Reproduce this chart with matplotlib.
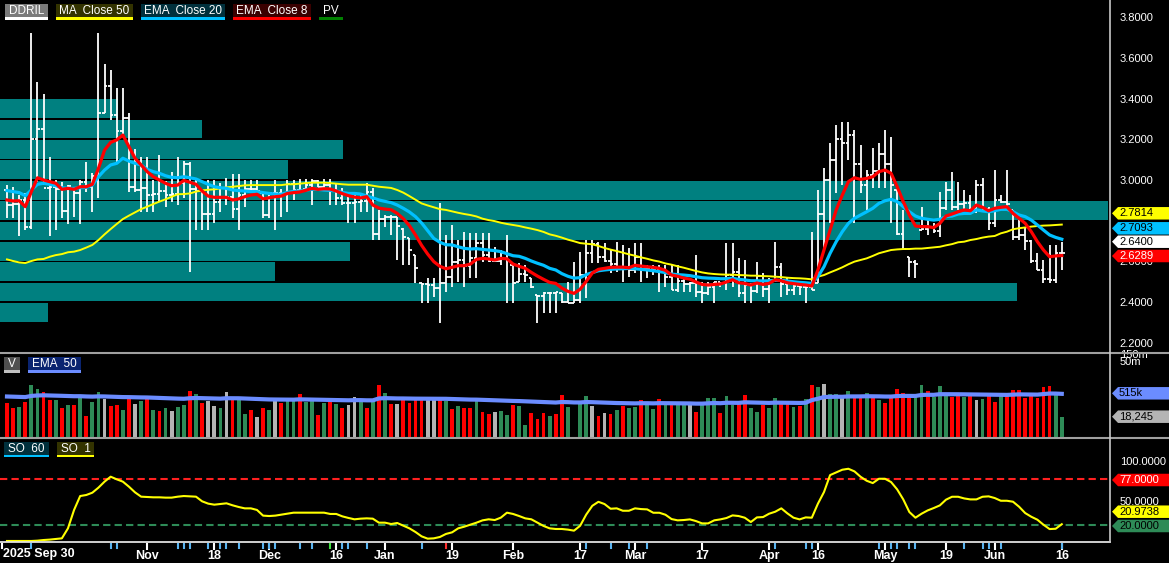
import numpy as np
import pandas as pd
import matplotlib
matplotlib.use("Agg")
import matplotlib.pyplot as plt
from matplotlib.patches import Polygon, Rectangle
from matplotlib.lines import Line2D
from matplotlib.transforms import blended_transform_factory

plt.rcParams['font.family'] = ['Liberation Sans', 'DejaVu Sans']

# ---------------- data ----------------
opens = [2.95, 2.875, 2.88, 2.90, 2.768, 3.202, 3.249, 2.961, 2.964, 2.956,
         2.849, 2.955, 2.937, 2.99, 2.967, 3.021, 3.33, 3.462, 3.318, 3.239,
         3.305, 2.965, 2.95, 2.959, 2.926, 2.929, 2.944, 2.928, 2.93, 2.986,
         3.079, 2.958, 2.944, 2.831, 2.834, 2.894, 2.915, 2.915, 2.857, 2.925,
         2.957, 2.954, 2.935, 2.827, 2.934, 2.936, 2.932, 2.98, 2.952, 2.956,
         2.977, 2.994, 2.967, 2.975, 2.953, 2.911, 2.888, 2.888, 2.892, 2.898,
         2.939, 2.734, 2.81, 2.82, 2.82, 2.76, 2.713, 2.631, 2.492, 2.49,
         2.486, 2.47, 2.496, 2.522, 2.596, 2.607, 2.579, 2.615, 2.691, 2.633,
         2.602, 2.60, 2.643, 2.582, 2.50, 2.538, 2.517, 2.435, 2.43, 2.445,
         2.445, 2.443, 2.40, 2.397, 2.408, 2.533, 2.639, 2.687, 2.624, 2.60,
         2.589, 2.575, 2.572, 2.559, 2.623, 2.563, 2.564, 2.56, 2.549, 2.521,
         2.46, 2.506, 2.487, 2.496, 2.45, 2.445, 2.474, 2.498, 2.496, 2.534,
         2.549, 2.443, 2.482, 2.456, 2.529, 2.463, 2.51, 2.573, 2.488, 2.46,
         2.477, 2.473, 2.474, 2.492, 2.835, 2.999, 3.097, 3.20, 3.182, 3.223,
         3.078, 2.975, 3.026, 3.044, 3.129, 3.077, 2.951, 2.736, 2.623, 2.597,
         2.754, 2.761, 2.771, 2.749, 2.861, 2.949, 2.868, 2.883, 2.885, 2.86,
         2.975, 2.86, 2.79, 2.903, 2.89, 2.853, 2.721, 2.728, 2.70, 2.603,
         2.56, 2.513, 2.508, 2.641]
highs = [2.975, 2.967, 2.926, 2.935, 3.721, 3.480, 3.421, 3.115, 3.000, 2.992,
         2.975, 2.959, 3.000, 3.087, 3.033, 3.721, 3.568, 3.541, 3.450, 3.454,
         3.328, 3.152, 3.115, 3.115, 3.000, 3.123, 2.995, 3.041, 3.115, 3.093,
         3.090, 3.000, 2.946, 3.000, 3.000, 2.984, 3.008, 3.029, 3.029, 3.000,
         3.000, 3.000, 2.939, 2.939, 3.000, 2.954, 3.000, 3.000, 3.003, 3.003,
         3.003, 3.000, 3.003, 3.003, 2.984, 2.959, 2.943, 2.934, 2.934, 2.984,
         2.959, 2.853, 2.828, 2.828, 2.820, 2.762, 2.713, 2.631, 2.492, 2.517,
         2.517, 2.885, 2.730, 2.779, 2.705, 2.746, 2.738, 2.738, 2.741, 2.741,
         2.672, 2.656, 2.730, 2.582, 2.590, 2.582, 2.517, 2.435, 2.451, 2.451,
         2.451, 2.443, 2.500, 2.599, 2.648, 2.705, 2.705, 2.697, 2.689, 2.656,
         2.697, 2.681, 2.664, 2.689, 2.689, 2.582, 2.582, 2.582, 2.582, 2.582,
         2.582, 2.525, 2.500, 2.631, 2.500, 2.500, 2.500, 2.500, 2.689, 2.689,
         2.615, 2.607, 2.492, 2.599, 2.541, 2.517, 2.697, 2.590, 2.517, 2.492,
         2.484, 2.492, 2.746, 2.951, 3.057, 3.180, 3.270, 3.287, 3.287, 3.246,
         3.172, 3.049, 3.156, 3.180, 3.246, 3.213, 2.951, 2.853, 2.623, 2.607,
         2.869, 2.803, 2.787, 2.943, 2.992, 3.041, 2.992, 2.951, 2.926, 3.000,
         3.008, 2.869, 3.049, 2.926, 3.049, 2.853, 2.803, 2.762, 2.705, 2.640,
         2.607, 2.681, 2.681, 2.697]
lows = [2.815, 2.815, 2.726, 2.754, 2.759, 2.992, 2.975, 2.726, 2.754, 2.815,
        2.784, 2.820, 2.784, 2.943, 2.844, 2.910, 3.328, 3.295, 3.090, 3.213,
        2.943, 2.943, 2.844, 2.844, 2.844, 2.894, 2.869, 2.894, 2.877, 2.910,
        2.546, 2.754, 2.754, 2.754, 2.787, 2.844, 2.877, 2.815, 2.754, 2.869,
        2.943, 2.943, 2.815, 2.815, 2.754, 2.820, 2.844, 2.902, 2.934, 2.954,
        2.877, 2.967, 2.954, 2.877, 2.877, 2.877, 2.787, 2.787, 2.844, 2.844,
        2.705, 2.705, 2.771, 2.730, 2.607, 2.582, 2.582, 2.492, 2.394, 2.394,
        2.427, 2.296, 2.451, 2.476, 2.500, 2.476, 2.517, 2.517, 2.599, 2.599,
        2.599, 2.582, 2.394, 2.394, 2.500, 2.500, 2.468, 2.296, 2.345, 2.345,
        2.345, 2.394, 2.394, 2.394, 2.394, 2.418, 2.590, 2.590, 2.599, 2.541,
        2.550, 2.500, 2.525, 2.541, 2.500, 2.517, 2.533, 2.451, 2.476, 2.459,
        2.451, 2.451, 2.451, 2.427, 2.394, 2.435, 2.394, 2.476, 2.459, 2.476,
        2.427, 2.394, 2.394, 2.443, 2.427, 2.394, 2.500, 2.427, 2.435, 2.435,
        2.435, 2.394, 2.459, 2.492, 2.656, 2.787, 2.934, 2.975, 3.098, 2.787,
        2.934, 2.853, 2.959, 2.959, 2.959, 2.787, 2.730, 2.656, 2.525, 2.517,
        2.754, 2.730, 2.738, 2.722, 2.853, 2.853, 2.853, 2.853, 2.853, 2.836,
        2.853, 2.754, 2.771, 2.885, 2.869, 2.705, 2.705, 2.656, 2.590, 2.558,
        2.492, 2.492, 2.492, 2.558]
closes = [2.875, 2.880, 2.900, 2.768, 3.202, 3.249, 2.961, 2.964, 2.956, 2.849,
          2.970, 2.937, 2.990, 2.967, 3.021, 3.330, 3.462, 3.318, 3.239, 3.305,
          2.965, 2.950, 2.959, 2.926, 2.929, 2.944, 2.928, 2.930, 2.986, 3.079,
          2.958, 2.944, 2.831, 2.834, 2.894, 2.915, 2.915, 2.857, 2.925, 2.957,
          2.954, 2.944, 2.827, 2.934, 2.936, 2.932, 2.980, 2.952, 2.952, 2.977,
          2.994, 2.967, 2.975, 2.953, 2.911, 2.888, 2.888, 2.892, 2.898, 2.939,
          2.734, 2.810, 2.820, 2.820, 2.773, 2.719, 2.657, 2.569, 2.490, 2.486,
          2.470, 2.496, 2.522, 2.596, 2.607, 2.579, 2.615, 2.691, 2.633, 2.602,
          2.600, 2.643, 2.606, 2.496, 2.538, 2.531, 2.476, 2.430, 2.445, 2.445,
          2.450, 2.400, 2.397, 2.408, 2.533, 2.639, 2.687, 2.624, 2.600, 2.589,
          2.575, 2.572, 2.559, 2.623, 2.563, 2.564, 2.560, 2.549, 2.521, 2.460,
          2.506, 2.487, 2.496, 2.450, 2.445, 2.474, 2.498, 2.496, 2.534, 2.549,
          2.443, 2.482, 2.456, 2.529, 2.463, 2.510, 2.573, 2.488, 2.460, 2.477,
          2.473, 2.474, 2.462, 2.835, 2.999, 3.097, 3.200, 3.182, 3.223, 3.078,
          2.975, 3.026, 3.044, 3.129, 3.077, 2.977, 2.736, 2.660, 2.597, 2.585,
          2.761, 2.771, 2.749, 2.861, 2.949, 2.868, 2.883, 2.885, 2.860, 2.975,
          2.860, 2.790, 2.903, 2.890, 2.880, 2.721, 2.728, 2.700, 2.603, 2.560,
          2.513, 2.508, 2.641, 2.640]
ema8 = [2.902, 2.897, 2.898, 2.869, 2.943, 3.011, 3.000, 2.992, 2.984, 2.954,
        2.959, 2.954, 2.967, 2.967, 2.979, 3.057, 3.147, 3.185, 3.197, 3.221,
        3.164, 3.107, 3.074, 3.041, 3.016, 3.000, 2.984, 2.972, 2.975, 2.998,
        2.989, 2.979, 2.946, 2.921, 2.915, 2.915, 2.915, 2.902, 2.907, 2.918,
        2.926, 2.930, 2.907, 2.913, 2.918, 2.921, 2.934, 2.938, 2.941, 2.949,
        2.959, 2.954, 2.957, 2.956, 2.946, 2.933, 2.923, 2.916, 2.912, 2.918,
        2.877, 2.862, 2.857, 2.854, 2.836, 2.810, 2.776, 2.730, 2.679, 2.636,
        2.599, 2.576, 2.564, 2.571, 2.579, 2.579, 2.587, 2.610, 2.615, 2.612,
        2.607, 2.615, 2.613, 2.587, 2.576, 2.566, 2.546, 2.528, 2.512, 2.497,
        2.492, 2.469, 2.453, 2.443, 2.463, 2.502, 2.543, 2.561, 2.566, 2.571,
        2.572, 2.572, 2.569, 2.581, 2.577, 2.574, 2.571, 2.566, 2.556, 2.533,
        2.527, 2.518, 2.513, 2.499, 2.487, 2.484, 2.487, 2.489, 2.499, 2.510,
        2.495, 2.492, 2.484, 2.494, 2.487, 2.492, 2.510, 2.505, 2.495, 2.491,
        2.487, 2.484, 2.479, 2.558, 2.656, 2.754, 2.853, 2.926, 2.992, 3.011,
        3.003, 3.008, 3.016, 3.041, 3.049, 3.033, 2.967, 2.894, 2.828, 2.774,
        2.771, 2.771, 2.766, 2.787, 2.823, 2.833, 2.844, 2.853, 2.849, 2.877,
        2.866, 2.849, 2.861, 2.866, 2.869, 2.836, 2.812, 2.787, 2.746, 2.697,
        2.656, 2.623, 2.627, 2.629]
ema20 = [2.948, 2.943, 2.938, 2.923, 2.951, 2.979, 2.984, 2.979, 2.972, 2.962,
         2.959, 2.959, 2.962, 2.964, 2.975, 3.016, 3.049, 3.074, 3.082, 3.107,
         3.093, 3.082, 3.074, 3.052, 3.041, 3.033, 3.021, 3.013, 3.011, 3.016,
         3.011, 3.005, 2.992, 2.979, 2.967, 2.962, 2.959, 2.951, 2.948, 2.946,
         2.943, 2.943, 2.938, 2.934, 2.931, 2.930, 2.939, 2.944, 2.946, 2.951,
         2.954, 2.954, 2.951, 2.949, 2.946, 2.939, 2.934, 2.934, 2.931, 2.921,
         2.912, 2.902, 2.895, 2.889, 2.877, 2.861, 2.843, 2.820, 2.789, 2.751,
         2.713, 2.694, 2.682, 2.681, 2.672, 2.664, 2.661, 2.663, 2.659, 2.656,
         2.653, 2.648, 2.638, 2.628, 2.625, 2.615, 2.602, 2.591, 2.581, 2.566,
         2.558, 2.540, 2.527, 2.518, 2.520, 2.535, 2.545, 2.554, 2.558, 2.561,
         2.563, 2.564, 2.566, 2.564, 2.561, 2.558, 2.554, 2.550, 2.545, 2.538,
         2.535, 2.533, 2.530, 2.525, 2.520, 2.518, 2.517, 2.515, 2.515, 2.517,
         2.512, 2.509, 2.505, 2.505, 2.504, 2.505, 2.507, 2.507, 2.504, 2.500,
         2.497, 2.495, 2.492, 2.525, 2.574, 2.640, 2.697, 2.746, 2.787, 2.812,
         2.828, 2.844, 2.861, 2.885, 2.898, 2.905, 2.894, 2.869, 2.844, 2.823,
         2.812, 2.807, 2.803, 2.807, 2.820, 2.823, 2.833, 2.836, 2.836, 2.853,
         2.848, 2.844, 2.849, 2.856, 2.856, 2.844, 2.828, 2.820, 2.803, 2.779,
         2.754, 2.730, 2.718, 2.709]
ma50 = [2.610, 2.602, 2.595, 2.592, 2.602, 2.610, 2.612, 2.623, 2.631, 2.636,
        2.645, 2.648, 2.656, 2.668, 2.681, 2.705, 2.733, 2.759, 2.784, 2.808,
        2.825, 2.841, 2.857, 2.869, 2.882, 2.894, 2.905, 2.918, 2.930, 2.931,
        2.934, 2.943, 2.949, 2.952, 2.954, 2.959, 2.964, 2.967, 2.970, 2.974,
        2.975, 2.975, 2.975, 2.975, 2.975, 2.975, 2.979, 2.979, 2.982, 2.985,
        2.987, 2.987, 2.987, 2.985, 2.982, 2.979, 2.977, 2.977, 2.977, 2.977,
        2.972, 2.967, 2.964, 2.961, 2.951, 2.938, 2.921, 2.903, 2.885, 2.875,
        2.866, 2.857, 2.853, 2.846, 2.839, 2.833, 2.828, 2.821, 2.810, 2.803,
        2.798, 2.790, 2.784, 2.779, 2.774, 2.767, 2.761, 2.754, 2.745, 2.733,
        2.726, 2.717, 2.707, 2.699, 2.690, 2.687, 2.684, 2.676, 2.666, 2.658,
        2.651, 2.643, 2.635, 2.628, 2.620, 2.613, 2.605, 2.599, 2.590, 2.584,
        2.576, 2.569, 2.561, 2.553, 2.546, 2.541, 2.538, 2.536, 2.535, 2.535,
        2.533, 2.532, 2.530, 2.530, 2.528, 2.527, 2.525, 2.523, 2.520, 2.518,
        2.517, 2.515, 2.512, 2.525, 2.533, 2.546, 2.558, 2.571, 2.586, 2.599,
        2.607, 2.615, 2.627, 2.640, 2.648, 2.656, 2.659, 2.661, 2.661, 2.663,
        2.663, 2.666, 2.669, 2.672, 2.679, 2.685, 2.694, 2.697, 2.705, 2.710,
        2.717, 2.722, 2.725, 2.738, 2.746, 2.758, 2.763, 2.767, 2.771, 2.774,
        2.776, 2.777, 2.779, 2.781]
volume = [136000, 66000, 73000, 149000, 1687000, 953000, 592000, 198000, 198000, 66000,
          97000, 97000, 368000, 20000, 149000, 621000, 229000, 84000, 97000, 48000,
          251000, 112000, 172000, 218000, 48000, 41000, 63000, 41000, 73000, 97000,
          716000, 467000, 129000, 172000, 84000, 63000, 621000, 218000, 229000, 27000,
          48000, 17500, 63000, 48000, 198000, 129000, 172000, 172000, 467000, 149000,
          198000, 23000, 129000, 172000, 112000, 63000, 97000, 304000, 198000, 63000,
          172000, 1687000, 538000, 112000, 112000, 229000, 129000, 198000, 229000, 264000,
          198000, 198000, 172000, 55000, 84000, 63000, 63000, 172000, 36000, 27000,
          36000, 41000, 23000, 97000, 84000, 5600, 31000, 13000, 31000, 20000,
          27000, 405000, 73000, 600, 129000, 351000, 84000, 20000, 31000, 27000,
          48000, 84000, 63000, 73000, 198000, 129000, 55000, 229000, 97000, 97000,
          97000, 97000, 97000, 36000, 112000, 264000, 264000, 31000, 351000, 97000,
          112000, 405000, 63000, 36000, 97000, 63000, 264000, 112000, 112000, 73000,
          84000, 229000, 1687000, 1268000, 1945000, 467000, 467000, 264000, 716000, 351000,
          351000, 538000, 304000, 198000, 129000, 304000, 953000, 538000, 304000, 351000,
          1687000, 716000, 304000, 1462000, 467000, 304000, 467000, 304000, 405000, 198000,
          229000, 405000, 149000, 405000, 351000, 826000, 826000, 264000, 405000, 264000,
          1268000, 1462000, 405000, 18245]
# r = down day, g = up day, w = unchanged
vol_dir = ("rrgrggrrgr" "grgrggwrrg" "rwgrgrgwgg" "rgrwwgwrgg" "rwrgwrggrg"
           "grgrgrwwgr" "grgrwrrrrw" "wrgrgrrgrr" "wggrggrrrg" "rrggggwrwr"
           "grggrggrgr" "ggwrgggrgg" "rrggrggrrg" "rgrgwggwgr" "rgrgrrrrrg"
           "grgggrrgrw" "grrgrrrrrr" "rrgg")
vol_ema_start = 335000
stoch = [0, 0, 0, 0, 0, 0.4, 1.2, 1.7, 2.5, 3.3,
         15.8, 38.8, 56.2, 57.5, 60.4, 66.7, 74.2, 80.4, 77.1, 74.2,
         67.9, 60.8, 55.4, 55.0, 54.6, 54.6, 54.2, 54.2, 55.4, 56.2,
         55.8, 55.4, 49.6, 46.7, 45.4, 46.2, 47.1, 44.6, 42.5, 40.8,
         40.8, 38.8, 31.7, 31.2, 31.7, 32.9, 34.2, 35.4, 35.4, 35.4,
         35.4, 35.4, 35.4, 33.8, 33.8, 30.8, 28.8, 27.1, 27.9, 28.3,
         27.9, 22.9, 22.9, 21.2, 22.5, 19.2, 15.8, 11.2, 5.8, 2.9,
         3.3, 5.0, 8.8, 10.8, 15.8, 17.9, 20.4, 22.9, 25.8, 27.1,
         26.2, 29.2, 35.4, 33.8, 31.2, 28.3, 27.1, 22.9, 18.8, 15.8,
         15.0, 15.0, 14.2, 12.9, 19.0, 33.0, 44.0, 49.0, 46.2, 40.3,
         40.8, 37.8, 37.8, 40.8, 39.9, 39.5, 35.3, 35.3, 32.8, 27.4,
         25.8, 26.2, 27.0, 24.9, 22.0, 22.0, 25.8, 27.0, 28.7, 32.0,
         31.2, 29.1, 23.7, 29.5, 29.9, 34.1, 36.6, 40.8, 34.5, 29.1,
         27.0, 29.5, 29.1, 46.6, 61.2, 82.4, 85.8, 89.1, 90.3, 87.0,
         80.3, 75.3, 72.4, 77.8, 77.8, 73.7, 64.5, 52.0, 36.2, 29.1,
         34.1, 38.2, 41.2, 44.5, 51.6, 55.3, 55.3, 53.2, 52.0, 52.0,
         55.3, 55.8, 53.7, 50.3, 50.3, 49.1, 42.8, 34.9, 30.3, 26.6,
         20.3, 14.9, 15.3, 20.9738]

# price-volume profile: lower edge of each 0.10 bin and relative volume
pv_low = [2.3, 2.4, 2.5, 2.6, 2.7, 2.8, 2.9, 3.0, 3.1, 3.2, 3.3]
pv_vol = [48, 1017, 275, 350, 920, 1108, 955, 288, 343, 202, 118]

# last values shown in the right-hand tags
last_ma50, last_ema20, last_ema8 = 2.7814, 2.7093, 2.6289
last_vol_ema = '515k'

tick_idx = [23, 34, 43, 54, 62, 73, 83, 94, 103, 114, 125, 133, 144, 154, 162, 173]
tick_lab = ['Nov', '18', 'Dec', '16', 'Jan', '19', 'Feb', '17', 'Mar', '17',
            'Apr', '16', 'May', '19', 'Jun', '16']

event_idx = [4, 17, 18, 28, 29, 30, 33, 35, 36, 38, 42, 43, 44, 48, 50, 53, 55, 56,
             59, 68, 72, 95, 99, 102, 105, 126, 131, 132, 143, 145, 146, 148, 149,
             157, 160, 161, 163, 173]
event_col = ['b'] * len(event_idx)
event_col[event_idx.index(53)] = 'g'
event_col[event_idx.index(72)] = 'r'

N = len(closes)
for arr in (opens, highs, lows, ema8, ema20, ma50, volume, stoch):
    assert len(arr) == N, len(arr)
assert len(vol_dir) == N

# ---------------- figure layout (pixel based) ----------------
W, H = 1169, 563
fig = plt.figure(figsize=(W / 100, H / 100), dpi=100, facecolor='black')

def add_axes_px(x0, y0, x1, y1):
    return fig.add_axes([x0 / W, 1 - y1 / H, (x1 - x0) / W, (y1 - y0) / H])

PLOT_R = 1110
ax = add_axes_px(0, 0, PLOT_R, 353)
axv = add_axes_px(0, 353, PLOT_R, 437.5)
axs = add_axes_px(0, 437.5, PLOT_R, 542.5)

x = np.arange(N)
xlim = (-7 / 6.097, (PLOT_R - 7) / 6.097)
for a in (ax, axv, axs):
    a.set_facecolor('black')
    a.set_xlim(*xlim)
    for sp in a.spines.values():
        sp.set_visible(False)
    a.yaxis.tick_right()
    a.tick_params(axis='y', left=False, right=False, labelleft=False, labelright=True,
                  length=0, pad=7, labelcolor='white', labelsize=8)
    a.tick_params(axis='x', bottom=False, labelbottom=False)

# ---------------- price panel ----------------
ax.set_ylim(2.150, 3.8845)
# 2.8000 sits fully under the value tags in the original, so it is left out
yt = [2.2, 2.4, 2.6, 3.0, 3.2, 3.4, 3.6, 3.8]
ax.set_yticks(yt)
ax.set_yticklabels(['%.4f' % v for v in yt])

btrans = blended_transform_factory(ax.transAxes, ax.transData)
pv_max = max(pv_vol)
for lo, v in zip(pv_low, pv_vol):
    ax.add_patch(Rectangle((0, lo + 0.004), v / pv_max * 0.998, 0.092,
                           transform=btrans, facecolor='#008080', edgecolor='none', zorder=1))

ax.vlines(x, lows, highs, color='white', lw=1.3, zorder=2)
ax.hlines(opens, x - 0.45, x, color='white', lw=1.3, zorder=2)
ax.hlines(closes, x, x + 0.45, color='white', lw=1.3, zorder=2)

ax.plot(x, ma50, color='#ffff00', lw=1.4, zorder=3)
ax.plot(x, ema20, color='#00c0ff', lw=2.3, zorder=4)
ax.plot(x, ema8, color='#ff0000', lw=2.3, zorder=5)

# ---------------- volume panel ----------------
v_bot, v_top = 937, 1.63e8
axv.set_yscale('log')
axv.set_ylim(v_bot, v_top)
axv.set_yticks([5e7, 1.5e8])
axv.set_yticklabels(['50m', '150m'])
axv.minorticks_off()
cmap = {'r': '#ff0000', 'g': '#2e8b57', 'w': '#b4b4b4'}
vol = np.array(volume, dtype=float)
axv.bar(x, vol - v_bot, bottom=v_bot, width=0.62,
        color=[cmap[c] for c in vol_dir], zorder=2)
vol_ema = pd.Series([vol_ema_start] + volume, dtype=float).ewm(span=50, adjust=False).mean().iloc[1:]
axv.plot(x, vol_ema.values, color='#6b8cff', lw=3, zorder=3)

# ---------------- stochastic panel ----------------
axs.set_ylim(-1.9, 129.4)
axs.set_yticks([50, 100])
axs.set_yticklabels(['50.0000', '100.0000'])
axs.axhline(77, color='#ff2020', lw=1.5, ls=(0, (3.5, 2)), zorder=1)
axs.axhline(20, color='#2e8b57', lw=1.5, ls=(0, (3.5, 2)), zorder=1)
axs.plot(x, stoch, color='#ffff00', lw=1.5, zorder=3)

axs.set_xticks(tick_idx)
axs.set_xticklabels(tick_lab)
axs.tick_params(axis='x', bottom=True, labelbottom=True, direction='out', length=5,
                width=1.5, color='white', labelcolor='white', labelsize=9, pad=0.5)
for t in axs.get_xticklabels():
    t.set_fontweight('bold')
etrans = blended_transform_factory(axs.transData, axs.transAxes)
ecol = {'b': '#5ab4f0', 'g': '#40e040', 'r': '#ff3030'}
for i, c in zip(event_idx, event_col):
    axs.add_line(Line2D([i, i], [-0.01, -0.055], transform=etrans, color=ecol[c],
                        lw=1.5, clip_on=False))
axs.add_line(Line2D([-0.8, -0.8], [-0.01, -0.055], transform=etrans, color='white',
                    lw=1.5, clip_on=False))
fig.text(3 / W, 1 - 554 / H, '2025 Sep 30', color='white', fontsize=9,
         fontweight='bold', ha='left', va='center')

# ---------------- frame lines ----------------
def fline(xs, ys, color, lw):
    fig.add_artist(Line2D([v / W for v in xs], [1 - v / H for v in ys], color=color, lw=lw))

fline([0, W], [353, 353], '#a0a0a0', 1.5)
fline([0, W], [437.5, 437.5], '#a0a0a0', 1.5)
fline([0, PLOT_R], [541.5, 541.5], '#e0e0e0', 1.3)
fline([PLOT_R, PLOT_R], [0, 542], '#c8c8c8', 1.2)

# ---------------- legend boxes ----------------
def legend_box(x0, x1, y0, y1, text, bg, ul, tc='white'):
    fig.add_artist(Rectangle((x0 / W, 1 - y1 / H), (x1 - x0) / W, (y1 - y0) / H,
                             transform=fig.transFigure, facecolor=bg, edgecolor='none', zorder=6))
    fig.add_artist(Rectangle((x0 / W, 1 - (y1 + 1) / H), (x1 - x0) / W, 2.2 / H,
                             transform=fig.transFigure, facecolor=ul, edgecolor='none', zorder=7))
    fig.text((x0 + x1) / 2 / W, 1 - (y0 + y1) / 2 / H, text, color=tc, fontsize=8.5,
             ha='center', va='center', zorder=8)

legend_box(5, 48, 4, 18.5, 'DDRIL', '#7a7a7a', 'white')
legend_box(56, 133, 4, 18.5, 'MA  Close 50', '#333300', '#ffff00')
legend_box(141, 225, 4, 18.5, 'EMA  Close 20', '#00303c', '#00c0ff')
legend_box(233, 311, 4, 18.5, 'EMA  Close 8', '#3a0000', '#ff0000')
legend_box(319, 343, 4, 18.5, 'PV', '#000000', '#008000')
legend_box(4, 20, 357, 371.5, 'V', '#505050', '#c0c0c0')
legend_box(28, 81, 357, 371.5, 'EMA  50', '#0a2470', '#6b8cff')
legend_box(4, 49, 441.5, 456, 'SO  60', '#00303c', '#00c0ff')
legend_box(57, 94, 441.5, 456, 'SO  1', '#333300', '#ffff00')

# ---------------- value tags on right axis ----------------
def tag(ypx, text, fc, tc, h=12.5):
    x0, x1 = 1112, W
    pts = [(x0, ypx), (x0 + 6, ypx - h / 2), (x1, ypx - h / 2), (x1, ypx + h / 2), (x0 + 6, ypx + h / 2)]
    fig.add_artist(Polygon([(a / W, 1 - b / H) for a, b in pts], closed=True,
                           transform=fig.transFigure, facecolor=fc, edgecolor='none', zorder=9))
    fig.text(1119 / W, 1 - ypx / H, text, color=tc, fontsize=8, ha='left', va='center', zorder=10)

tag(213.3, '%.4f' % last_ma50, '#ffff00', 'black')
tag(228.3, '%.4f' % last_ema20, '#00c0ff', 'black')
tag(241.7, '%.4f' % closes[-1], '#ffffff', 'black')
tag(256, '%.4f' % last_ema8, '#ff0000', 'white')
tag(393.3, last_vol_ema, '#6b8cff', 'black')
tag(416.7, '{:,}'.format(volume[-1]), '#b4b4b4', 'black')
tag(480, '77.0000', '#ff0000', 'white')
tag(511.7, '%.4f' % stoch[-1], '#ffff00', 'black')
tag(526, '20.0000', '#2e8b57', 'black')

fig.savefig('out.png', dpi=100, facecolor='black')
